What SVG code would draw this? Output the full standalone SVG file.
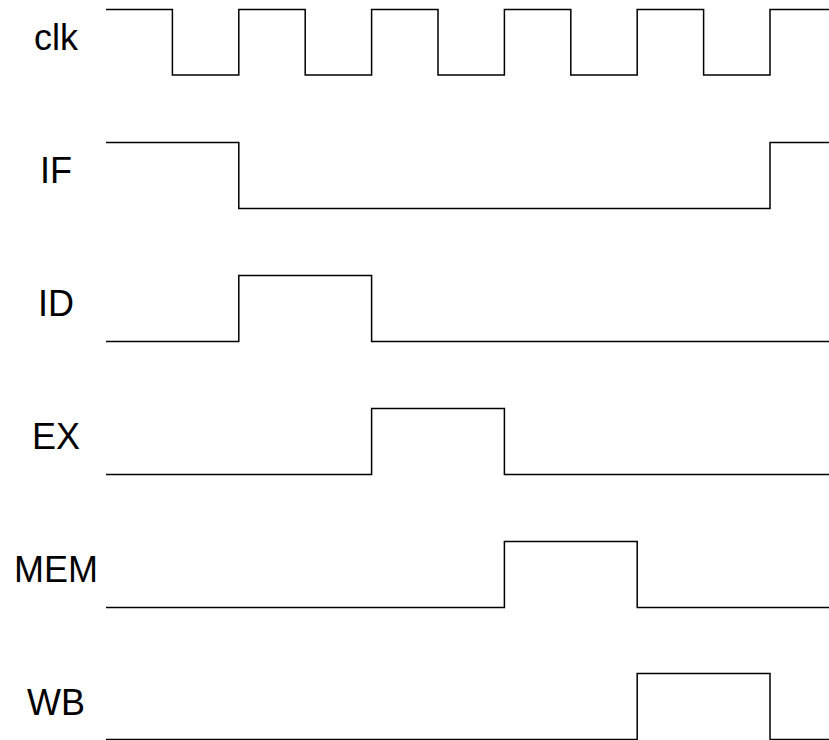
<svg xmlns="http://www.w3.org/2000/svg" width="829" height="740" viewBox="0 0 829 740">
<style>
.lbl{font-family:"Liberation Sans",Arial,sans-serif;font-size:36px;fill:#000;text-anchor:middle}
.sig{fill:none;stroke:#000;stroke-width:1.5}
</style>
<rect width="829" height="740" fill="#fff"/>
<g id="labels">
<g id="clk"><text class="lbl" x="56" y="50">clk</text></g>
<g id="IF"><text class="lbl" x="56" y="183">IF</text></g>
<g id="ID"><text class="lbl" x="56" y="316">ID</text></g>
<g id="EX"><text class="lbl" x="56" y="449">EX</text></g>
<g id="MEM"><text class="lbl" x="56" y="582">MEM</text></g>
<g id="WB"><text class="lbl" x="56" y="715">WB</text></g>
</g>
<g id="connectors">
<path id="w-clk" class="sig" d="M106,9.5H172.4V75H238.8V9.5H305.2V75H371.6V9.5H438V75H504.4V9.5H570.8V75H637.2V9.5H703.6V75H770V9.5H829"/>
<path id="w-IF" class="sig" d="M106,142.5H238.8V208.5H770V142.5H829"/>
<path id="w-ID" class="sig" d="M106,341.5H238.8V275.5H371.6V341.5H829"/>
<path id="w-EX" class="sig" d="M106,474.5H371.6V408.5H504.4V474.5H829"/>
<path id="w-MEM" class="sig" d="M106,607.5H504.4V541.5H637.2V607.5H829"/>
<path id="w-WB" class="sig" d="M106,739.5H637.2V673.5H770V739.5H829"/>
</g>
</svg>
